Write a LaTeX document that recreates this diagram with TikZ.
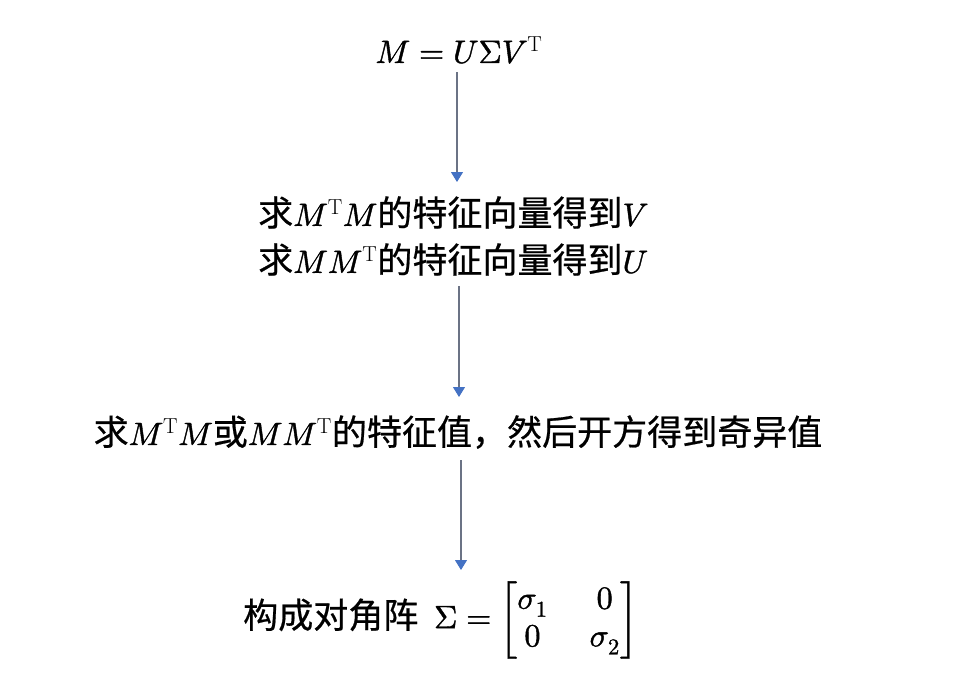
\documentclass[tikz,border=0pt]{standalone}
\usepackage{amsmath}
\usepackage{fontspec}
\usepackage{unicode-math}
\setmathfont{Latin Modern Math}[FakeBold=1.2,Scale=1.04]
\newfontfamily\cjk{Noto Sans CJK SC}[Scale=1.13,FakeBold=0.6]
\usetikzlibrary{arrows.meta}
\definecolor{linegray}{HTML}{6B7385}
\definecolor{tipblue}{HTML}{4472C4}
\tikzset{
  txt/.style={font=\cjk\fontsize{31}{47}\selectfont, inner sep=0pt, align=center},
  arr/.style={draw=linegray, line width=1.1pt, -{Triangle[width=12pt,length=10pt,color=tipblue]}}
}
\begin{document}
\begin{tikzpicture}[x=1pt,y=-1pt]
\useasboundingbox[fill=white] (0,0) rectangle (969,691);
\node[txt] (n1) at (459,50) {$M = U\Sigma V^{\mathrm{T}}$};
\node[txt, align=left, anchor=west] (n2) at (258,236) {求$M^{\mathrm{T}}M$的特征向量得到$V$\\求$MM^{\mathrm{T}}$的特征向量得到$U$};
\node[txt] (n3) at (458,432) {求$M^{\mathrm{T}}M$或$MM^{\mathrm{T}}$的特征值，然后开方得到奇异值};
\node[txt] (n4) at (440,620) {构成对角阵\ \ $\Sigma = {\setlength{\arraycolsep}{21pt}\renewcommand{\arraystretch}{0.8}\begin{bmatrix}\sigma_1 & 0\\ 0 & \sigma_2\end{bmatrix}}$};
\draw[arr] ([xshift=-2pt,yshift=-22pt]n1.center) -- ([xshift=-2pt,yshift=54pt]n1.center |- n2.center);
\draw[arr] ([yshift=-50pt]n1.center |- n2.center) -- ([xshift=1pt,yshift=35pt]n3.center);
\draw[arr] ([xshift=3pt,yshift=-28pt]n3.center) -- ([xshift=21pt,yshift=50pt]n4.center);
\end{tikzpicture}
\end{document}
